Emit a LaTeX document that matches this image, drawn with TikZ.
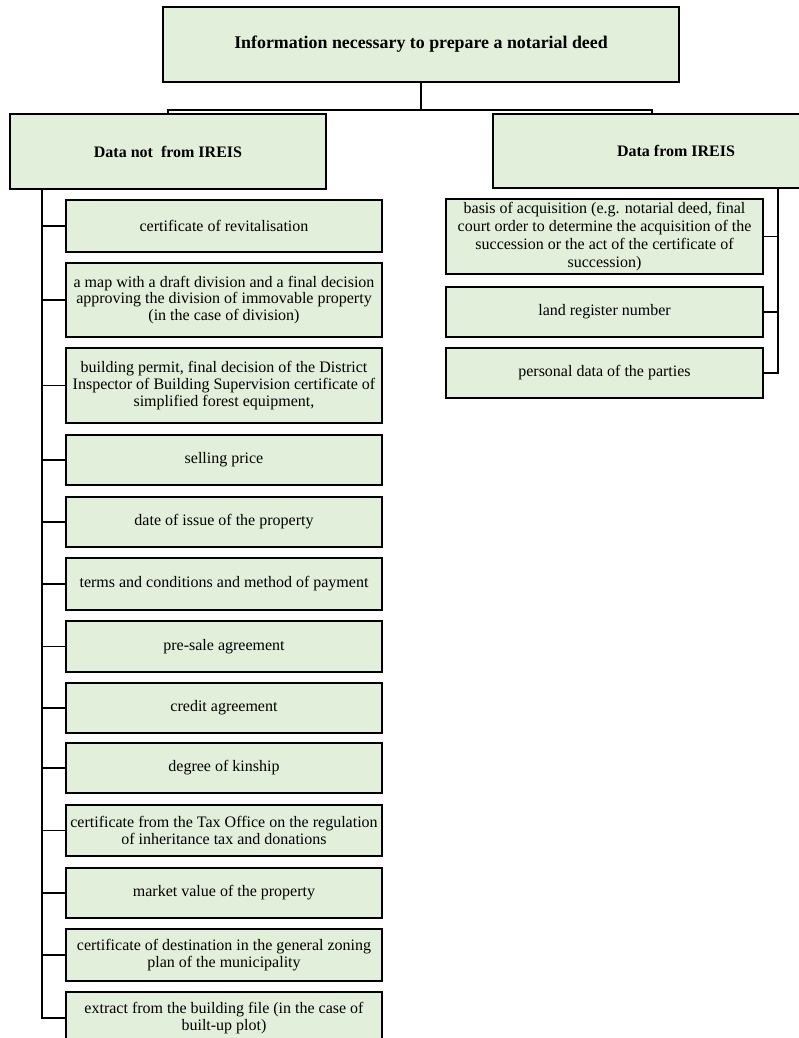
\documentclass[tikz,border=0pt]{standalone}
\usepackage{fontspec}
\setmainfont{Liberation Serif}
\definecolor{boxfill}{HTML}{E2EFDA}
\begin{document}
\begin{tikzpicture}[x=0.75pt,y=-0.75pt,
  box/.style={draw=black,line width=1.15pt,fill=boxfill,inner sep=0pt,align=center,
    font=\fontsize{12}{12.6}\selectfont},
  litem/.style={box,minimum width=237pt,minimum height=#1},
  ritem/.style={box,minimum width=238pt,minimum height=#1},
  conn/.style={draw=black,line width=1.15pt}]
\useasboundingbox (0,0) rectangle (799,1038);
% top
\node[box,minimum width=387pt,minimum height=56.25pt,font=\fontsize{13.4}{15}\selectfont\bfseries] (root) at (421,44.5) {Information necessary to prepare a notarial deed};
\node[box,minimum width=237pt,minimum height=56.25pt,font=\fontsize{12}{14}\selectfont\bfseries] (lh) at (168,151.5) {Data not\ \ from IREIS};
\node[box,minimum width=274.5pt,minimum height=55.5pt,font=\fontsize{12}{14}\selectfont\bfseries] (rh) at (676,151) {Data from IREIS};
% left items
\node[litem=39pt] (b1) at (224,226) {certificate of revitalisation};
\node[litem=55.5pt] (b2) at (224,300) {a map with a draft division and a final decision\\approving the division of immovable property\\(in the case of division)};
\node[litem=56.25pt] (b3) at (224,385.5) {building permit, final decision of the District\\Inspector of Building Supervision certificate of\\simplified forest equipment,};
\node[litem=37.5pt] (b4) at (224,460) {selling price};
\node[litem=37.5pt] (b5) at (224,522) {date of issue of the property};
\node[litem=39pt] (b6) at (224,584) {terms and conditions and method of payment};
\node[litem=38.25pt] (b7) at (224,646.5) {pre-sale agreement};
\node[litem=37.5pt] (b8) at (224,708) {credit agreement};
\node[litem=37.5pt] (b9) at (224,768) {degree of kinship};
\node[litem=38.25pt] (b10) at (224,830.5) {certificate from the Tax Office on the regulation\\of inheritance tax and donations};
\node[litem=37.5pt] (b11) at (224,893) {market value of the property};
\node[litem=39pt] (b12) at (224,955) {certificate of destination in the general zoning\\plan of the municipality};
\node[litem=39pt] (b13) at (224,1018) {extract from the building file (in the case of\\built-up plot)};
% right items
\node[ritem=56.25pt,font=\fontsize{12}{13.6}\selectfont] (r1) at (604.5,236.5) {basis of acquisition (e.g. notarial deed, final\\court order to determine the acquisition of the\\succession or the act of the certificate of\\succession)};
\node[ritem=37.5pt] (r2) at (604.5,312) {land register number};
\node[ritem=37.5pt] (r3) at (604.5,373) {personal data of the parties};
% connectors top
\coordinate (jm) at (421,110);
\coordinate (jl) at (168,110);
\coordinate (jr) at (652,110);
\draw[conn] (root.south) -- (jm);
\draw[conn] (lh.north) -- (jl) -- (jr) -- (jr |- rh.north);
% left trunk
\coordinate (lt) at (42,189);
\draw[conn] (lt) |- (b13.west);
\foreach \n in {b1,b2,b3,b4,b5,b6,b7,b8,b9,b10,b11,b12}
  \draw[conn] (\n.west) -- (\n.west -| lt);
% right trunk
\coordinate (rt) at (778,188);
\draw[conn] (rt) |- (r3.east);
\foreach \n in {r1,r2}
  \draw[conn] (\n.east) -- (\n.east -| rt);
\end{tikzpicture}
\end{document}
